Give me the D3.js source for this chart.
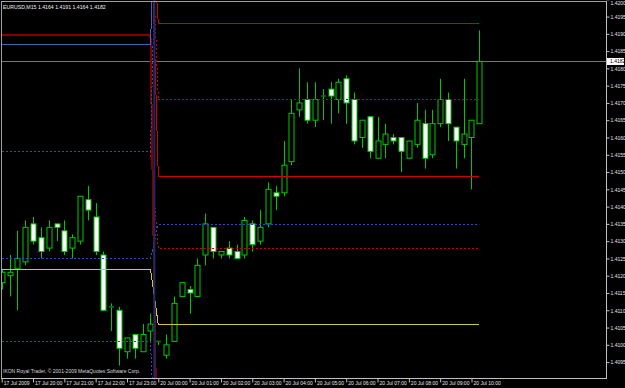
<!DOCTYPE html>
<html><head><meta charset="utf-8">
<script src="https://cdn.jsdelivr.net/npm/d3@7"></script>
<style>html,body{margin:0;padding:0;background:#000;}svg{display:block;}</style>
</head><body>
<svg id="c" width="625" height="388"></svg>
<script>
// ---------- DATA ----------
const times = [
 "17 Jul 19:00","17 Jul 19:15","17 Jul 19:30","17 Jul 19:45",
 "17 Jul 20:00","17 Jul 20:15","17 Jul 20:30","17 Jul 20:45",
 "17 Jul 21:00","17 Jul 21:15","17 Jul 21:30","17 Jul 21:45",
 "17 Jul 22:00","17 Jul 22:15","17 Jul 22:30","17 Jul 22:45",
 "17 Jul 23:00","17 Jul 23:15","17 Jul 23:30","17 Jul 23:45",
 "20 Jul 00:00","20 Jul 00:15","20 Jul 00:30","20 Jul 00:45",
 "20 Jul 01:00","20 Jul 01:15","20 Jul 01:30","20 Jul 01:45",
 "20 Jul 02:00","20 Jul 02:15","20 Jul 02:30","20 Jul 02:45",
 "20 Jul 03:00","20 Jul 03:15","20 Jul 03:30","20 Jul 03:45",
 "20 Jul 04:00","20 Jul 04:15","20 Jul 04:30","20 Jul 04:45",
 "20 Jul 05:00","20 Jul 05:15","20 Jul 05:30","20 Jul 05:45",
 "20 Jul 06:00","20 Jul 06:15","20 Jul 06:30","20 Jul 06:45",
 "20 Jul 07:00","20 Jul 07:15","20 Jul 07:30","20 Jul 07:45",
 "20 Jul 08:00","20 Jul 08:15","20 Jul 08:30","20 Jul 08:45",
 "20 Jul 09:00","20 Jul 09:15","20 Jul 09:30","20 Jul 09:45",
 "20 Jul 10:00","20 Jul 10:15"
];
const open  = [1.4118,1.4120,1.4122,1.4124,1.4135,1.4131,1.4128,1.4135,1.4133,1.4128,1.4130,1.4142,1.4137,1.4126,1.4111,1.4110,1.4098,1.4103,1.4098,1.4104,
               1.4101,1.4097,1.4101,1.4114,1.4116,1.4114,1.4126,1.4134,1.4126,1.4128,1.4127,1.4126,1.4135,1.4130,1.4135,1.4144,1.4144,1.4153,1.4168,1.4171,
               1.4165,1.4172,1.4174,1.4171,1.4177,1.4171,1.4160,1.4166,1.4154,1.4158,1.4160,1.4160,1.4154,1.4158,1.4164,1.4155,1.4164,1.4171,1.4163,1.4158,
               1.4160,1.4164];
const high  = [1.4122,1.4126,1.4133,1.4136,1.4137,1.4134,1.4136,1.4135,1.4136,1.4132,1.4143,1.4146,1.4141,1.4127,1.4112,1.4111,1.4102,1.4103,1.4106,1.4109,
               1.4101,1.4103,1.4114,1.4118,1.4117,1.4125,1.4138,1.4134,1.4127,1.4130,1.4129,1.4137,1.4136,1.4139,1.4147,1.4146,1.4159,1.4171,1.4180,1.4176,
               1.4176,1.4174,1.4176,1.4177,1.4178,1.4173,1.4165,1.4166,1.4166,1.4164,1.4161,1.4160,1.4159,1.4170,1.4168,1.4168,1.4177,1.4173,1.4163,1.4177,
               1.4165,1.4191];
const low   = [1.4116,1.4114,1.4110,1.4123,1.4129,1.4125,1.4127,1.4130,1.4126,1.4125,1.4129,1.4136,1.4126,1.4110,1.4104,1.4094,1.4096,1.4096,1.4098,1.4101,
               1.4100,1.4096,1.4101,1.4114,1.4109,1.4114,1.4123,1.4125,1.4125,1.4125,1.4125,1.4125,1.4127,1.4129,1.4134,1.4139,1.4143,1.4152,1.4166,1.4164,
               1.4163,1.4165,1.4164,1.4167,1.4164,1.4158,1.4157,1.4154,1.4154,1.4154,1.4158,1.4150,1.4154,1.4157,1.4151,1.4154,1.4163,1.4159,1.4151,1.4154,
               1.4145,1.4164];
const close = [1.4121,1.4121,1.4125,1.4134,1.4130,1.4127,1.4134,1.4134,1.4127,1.4131,1.4143,1.4139,1.4127,1.4110,1.4111,1.4099,1.4102,1.4099,1.4103,1.4106,
               1.4101,1.4100,1.4112,1.4118,1.4115,1.4123,1.4135,1.4127,1.4127,1.4126,1.4125,1.4136,1.4129,1.4134,1.4145,1.4143,1.4152,1.4167,1.4170,1.4165,
               1.4171,1.4172,1.4172,1.4176,1.4170,1.4159,1.4165,1.4156,1.4159,1.4161,1.4159,1.4156,1.4159,1.4165,1.4154,1.4164,1.4171,1.4164,1.4159,1.4161,
               1.4165,1.4182];

const xTickIndex  = [0,4,8,12,16,20,24,28,32,36,40,44,48,52,56,60];
const xTickLabels = ["17 Jul 2009","17 Jul 20:00","17 Jul 21:00","17 Jul 22:00","17 Jul 23:00",
                     "20 Jul 00:00","20 Jul 01:00","20 Jul 02:00","20 Jul 03:00","20 Jul 04:00",
                     "20 Jul 05:00","20 Jul 06:00","20 Jul 07:00","20 Jul 08:00","20 Jul 09:00","20 Jul 10:00"];
const yTicks = [1.4095,1.4100,1.4105,1.4110,1.4115,1.4120,1.4125,1.4130,1.4135,1.4140,1.4145,1.4150,
                1.4155,1.4160,1.4165,1.4170,1.4175,1.4180,1.4185,1.4190,1.4195,1.4200];

// indicator levels: value on Friday session, value on Monday session
const levelNames  = ["redHi","redLo","redDotHi","redDotLo","maroon","blueSolid","blueDotB","blueDotA","blueDotC","yellow"];
const levelFriday = [1.4230,1.4230,1.4230,1.4156,1.4190,1.4187,1.4156,1.4125,1.4101,1.4122];
const levelMonday = [1.4193,1.4149,1.4171,1.4128,1.4040,1.4250,1.4250,1.4135,1.4050,1.4106];
const bidPrice = 1.4182;
const titleText = "EURUSD,M15  1.4164 1.4191 1.4164 1.4182";
const footerText = "IKON Royal Trader, \u00A9 2001-2009 MetaQuotes Software Corp.";

// ---------- STYLES / LAYOUT ----------
const levelStyle = {
  redHi:    {stroke:"#d40000", w:1, dash:null},
  redLo:    {stroke:"#d40000", w:1, dash:null},
  redDotHi: {stroke:"#c80000", w:1, dash:"2,2"},
  redDotLo: {stroke:"#c80000", w:1, dash:"2,2"},
  maroon:   {stroke:"#800000", w:2, dash:null},
  blueSolid:{stroke:"#4464b4", w:1, dash:null},
  blueDotB: {stroke:"#2c4cc0", w:1, dash:"2,2"},
  blueDotA: {stroke:"#2c4cc0", w:1, dash:"2,2"},
  blueDotC: {stroke:"#2c4cc0", w:1, dash:"2,2"},
  yellow:   {stroke:"#caca3c", w:1, dash:null}
};
const W = 625, H = 388;
const P = {l:2, t:1, r:606, b:378};
const firstBarX = 1.7, barStep = 7.83, bodyW = 5;
const FONT = "'Liberation Sans', Arial, sans-serif";
const green = "#00c800";

const svg = d3.select("#c");
svg.append("rect").attr("width",W).attr("height",H).attr("fill","#000");

const x = d3.scaleLinear().domain([0, times.length-1])
  .range([firstBarX, firstBarX + barStep*(times.length-1)]);
const y = d3.scaleLinear().domain([1.40904, 1.41995]).range([P.b, P.t]);

svg.append("defs").append("clipPath").attr("id","clip")
  .append("rect").attr("x",P.l).attr("y",P.t).attr("width",P.r-P.l).attr("height",P.b-P.t);

const plot = svg.append("g").attr("clip-path","url(#clip)");

// bid line
plot.append("line").attr("x1",P.l).attr("x2",P.r)
  .attr("y1",Math.round(y(bidPrice))+0.5).attr("y2",Math.round(y(bidPrice))+0.5)
  .attr("stroke","#767676").attr("stroke-width",1);

// candles
const bars = times.map((t,i)=>({i, o:open[i], h:high[i], l:low[i], c:close[i]}));
const cg = plot.append("g");
cg.selectAll("line.wick").data(bars).join("line").attr("class","wick")
  .attr("x1",d=>Math.round(x(d.i))+0.5).attr("x2",d=>Math.round(x(d.i))+0.5)
  .attr("y1",d=>y(d.h)).attr("y2",d=>y(d.l))
  .attr("stroke",green).attr("stroke-width",1);
cg.selectAll("rect.body").data(bars.filter(d=>d.o!==d.c)).join("rect").attr("class","body")
  .attr("x",d=>Math.round(x(d.i)) - bodyW/2 + 0.5)
  .attr("y",d=>y(Math.max(d.o,d.c)))
  .attr("width",bodyW)
  .attr("height",d=>Math.abs(y(d.o)-y(d.c)))
  .attr("fill",d=>d.c>d.o ? "#000" : "#fff")
  .attr("stroke",green).attr("stroke-width",1);
cg.selectAll("line.doji").data(bars.filter(d=>d.o===d.c)).join("line").attr("class","doji")
  .attr("x1",d=>Math.round(x(d.i)) - bodyW/2 + 0.5).attr("x2",d=>Math.round(x(d.i)) + bodyW/2 + 0.5)
  .attr("y1",d=>y(d.o)).attr("y2",d=>y(d.o))
  .attr("stroke","#007a00").attr("stroke-width",1.5);

// day separator
const sepX = (x(19)+x(20))/2;
svg.append("line").attr("x1",sepX).attr("x2",sepX).attr("y1",0).attr("y2",P.b+2)
  .attr("stroke","#1c2a6a").attr("stroke-width",2);

// indicator levels
const session = times.map(t => t.startsWith("17") ? 0 : 1);
const lineGen = d3.line().x(d=>x(d.i)).y(d=>Math.round(y(d.v))+0.5);
levelNames.forEach((name,k)=>{
  const pts = times.map((t,i)=>({i, v: session[i]===0 ? levelFriday[k] : levelMonday[k]}));
  const s = levelStyle[name];
  plot.append("path").datum(pts).attr("d",lineGen)
    .attr("fill","none").attr("stroke",s.stroke).attr("stroke-width",s.w)
    .attr("stroke-dasharray",s.dash).attr("shape-rendering","crispEdges");
});

// frame
svg.append("line").attr("x1",1.5).attr("x2",1.5).attr("y1",1).attr("y2",P.b).attr("stroke","#a0a0a0");
svg.append("line").attr("x1",1).attr("x2",P.r).attr("y1",1.5).attr("y2",1.5).attr("stroke","#a0a0a0");
svg.append("line").attr("x1",P.r+0.5).attr("x2",P.r+0.5).attr("y1",1).attr("y2",P.b+1).attr("stroke","#c0c0c0");
svg.append("line").attr("x1",1).attr("x2",P.r+1).attr("y1",P.b+0.5).attr("y2",P.b+0.5).attr("stroke","#c0c0c0");

// y axis
const yAxis = d3.axisRight(y).tickValues(yTicks).tickSize(3).tickSizeOuter(0).tickFormat(d3.format(".4f"));
const ya = svg.append("g").attr("transform",`translate(${P.r+0.5},0)`).call(yAxis);
ya.select(".domain").remove();
ya.selectAll(".tick line").attr("stroke","#c0c0c0");
ya.selectAll(".tick text").attr("x",4).attr("dy","0.35em")
  .attr("y",d => Math.max(0, 3.2 - y(d)))
  .attr("fill","#e6e6e6").style("font-family",FONT).style("font-size","5px");

// bid label
const by = y(bidPrice);
svg.append("rect").attr("x",P.r+1).attr("y",by-3.5).attr("width",17).attr("height",7).attr("fill","#fff");
svg.append("text").attr("x",P.r+4).attr("y",by).attr("dy","0.35em").text(d3.format(".4f")(bidPrice))
  .attr("fill","#000").style("font-family",FONT).style("font-size","5px");

// x axis
const xAxis = d3.axisBottom(x).tickValues(xTickIndex).tickSize(4).tickSizeOuter(0)
  .tickFormat((d,i)=>xTickLabels[i]);
const xa = svg.append("g").attr("transform",`translate(0,${P.b+0.5})`).call(xAxis);
xa.select(".domain").remove();
xa.selectAll(".tick line").attr("stroke","#c0c0c0");
xa.selectAll(".tick text").attr("text-anchor","start").attr("x",1.5).attr("y",3).attr("dy","0.75em")
  .attr("fill","#e6e6e6").style("font-family",FONT).style("font-size","5px");

// texts
svg.append("text").attr("x",3).attr("y",9).text(titleText)
  .attr("fill","#f0f0f0").style("font-family",FONT).style("font-size","5.2px");
svg.append("text").attr("x",3).attr("y",373).text(footerText)
  .attr("fill","#d8d8d8").style("font-family",FONT).style("font-size","5px");
</script>
</body></html>
